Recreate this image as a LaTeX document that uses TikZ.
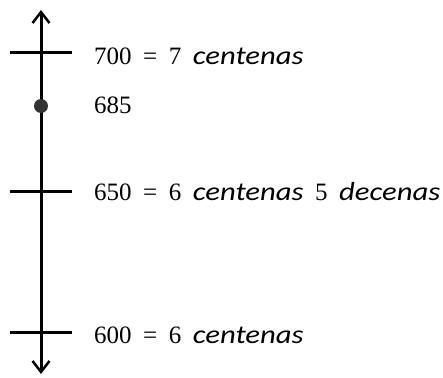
\documentclass[tikz,border=0pt]{standalone}
\usepackage{fontspec}
\setmainfont{Liberation Serif}
\newfontfamily\wordfont{Carlito}
\usetikzlibrary{arrows.meta}
\newcommand{\wrd}[1]{\scalebox{1.18}[1]{\wordfont\itshape\fontsize{26}{30}\selectfont #1}}
\newcommand{\lblfont}{\fontsize{25}{30}\selectfont\spaceskip 11.5pt\relax}

\begin{document}
\begin{tikzpicture}[
    x=1pt, y=-1pt,
    axis/.style={line width=3pt, {Straight Barb[length=11pt,width=17pt,line width=2.5pt]}-{Straight Barb[length=11pt,width=17pt,line width=2.5pt]}},
    tickmark/.style={line width=3pt},
    dot/.style={circle, fill=black!80, inner sep=0pt, minimum size=14pt},
    lbl/.style={anchor=west, inner sep=0pt, font=\lblfont}
]
    \useasboundingbox (0,0) rectangle (443,377);

    % Axis
    \coordinate (top) at (41,10);
    \coordinate (bottom) at (41,374);
    \draw[axis] (bottom) -- (top);

    % Ticks
    \coordinate (t700) at (41,53);
    \coordinate (t650) at (41,191);
    \coordinate (t600) at (41,332);
    \foreach \t in {t700, t650, t600}
        \draw[tickmark] ([xshift=-31pt]\t) -- ([xshift=31pt]\t);

    % Point
    \node[dot] (p685) at (41,106) {};

    % Labels
    \node[lbl] (l700) at (94,56) {700 = 7 \wrd{centenas}};
    \node[lbl] (l685) at (94,105) {685};
    \node[lbl] (l650) at (94,192) {650 = 6 \wrd{centenas} 5 \wrd{decenas}};
    \node[lbl] (l600) at (94,335) {600 = 6 \wrd{centenas}};

\end{tikzpicture}
\end{document}
